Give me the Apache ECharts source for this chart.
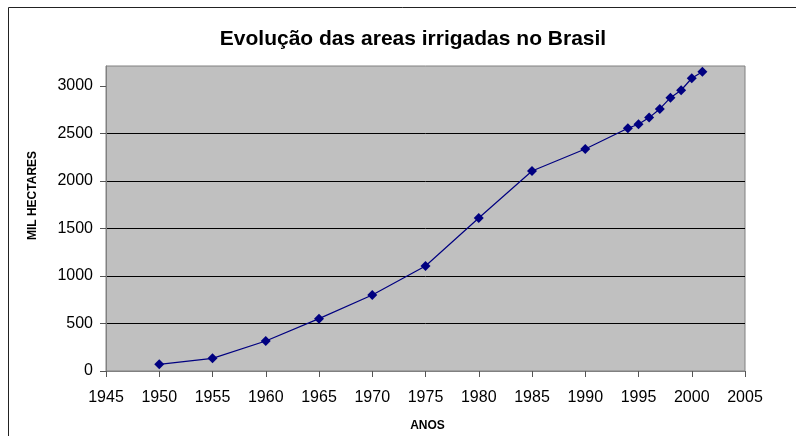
<!DOCTYPE html>
<html>
<head>
    <meta charset="UTF-8"/>
    <title>Evolução das areas irrigadas no Brasil</title>
    <script type="text/javascript" src="https://cdn.jsdelivr.net/npm/echarts@6/dist/echarts.min.js"></script>
</head>
<body style="margin:0;background:#fff;">

<div id="main" style="width: 796px;height:436px;"></div>

<script type="text/javascript">
    // dados
    var anos = [1950, 1955, 1960, 1965, 1970, 1975, 1980, 1985, 1990, 1994, 1995, 1996, 1997, 1998, 1999, 2000, 2001];
    var milHectares = [70, 133, 316, 551, 800, 1105, 1610, 2105, 2337, 2555, 2597, 2667, 2758, 2877, 2955, 3081, 3150];
    var yTicks = [0, 500, 1000, 1500, 2000, 2500, 3000];

    var myChart = echarts.init(document.getElementById('main'));

    var pontos = anos.map(function (a, i) { return [a, milHectares[i]]; });

    var option = {
        backgroundColor: '#fff',
        animation: false,
        textStyle: { fontFamily: 'Liberation Sans, Arial, sans-serif' },
        title: {
            text: 'Evolução das areas irrigadas no Brasil',
            left: 408,
            textAlign: 'center',
            top: 24,
            textStyle: { fontSize: 21, fontWeight: 'bold', color: '#000' }
        },
        graphic: [{
            type: 'rect',
            shape: { x: 8.5, y: 7.5, width: 900, height: 600 },
            style: { fill: null, stroke: '#222', lineWidth: 1 },
            silent: true
        }],
        grid: {
            left: 106, top: 66, right: 51, bottom: 65,
            outerBoundsMode: 'none',
            containLabel: false,
            show: true,
            backgroundColor: '#C0C0C0',
            borderColor: '#808080',
            borderWidth: 1
        },
        xAxis: {
            type: 'value',
            min: 1945, max: 2005, interval: 5,
            name: 'ANOS',
            nameLocation: 'middle',
            nameGap: 49,
            nameTextStyle: { fontSize: 12, fontWeight: 'bold', color: '#000', padding: [0, 0, 0, 4] },
            axisLine: { show: true, lineStyle: { color: '#808080' } },
            axisTick: { show: true, length: 6, lineStyle: { color: '#555' } },
            axisLabel: { fontSize: 16, color: '#000', margin: 19, formatter: function (v) { return String(v); } },
            splitLine: { show: false }
        },
        yAxis: {
            type: 'value',
            min: 0, max: 3210,
            name: 'MIL HECTARES',
            nameLocation: 'middle',
            nameGap: 67,
            nameRotate: 90,
            nameTextStyle: { fontSize: 12, fontWeight: 'bold', color: '#000', padding: [0, 0, 0, 46] },
            axisLine: { show: true, lineStyle: { color: '#808080' } },
            axisTick: { show: true, length: 6, customValues: yTicks, lineStyle: { color: '#555' } },
            axisLabel: { fontSize: 16, color: '#000', margin: 13, customValues: yTicks, formatter: function (v) { return String(v); } },
            splitLine: { show: true, showMaxLine: false, lineStyle: { color: '#000', width: 1 } }
        },
        series: [{
            type: 'line',
            data: pontos,
            symbol: 'diamond',
            symbolSize: 10,
            itemStyle: { color: '#000080' },
            lineStyle: { color: '#000080', width: 1.2 }
        }]
    };
    myChart.setOption(option);
</script>
</body>
</html>
